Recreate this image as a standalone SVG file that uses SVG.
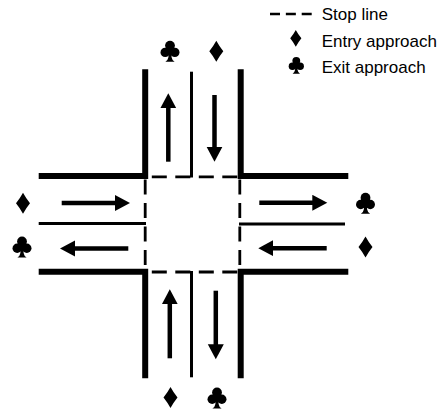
<svg xmlns="http://www.w3.org/2000/svg" width="439" height="411" viewBox="0 0 439 411">
<style>
.thick{fill:none;stroke:#000;stroke-width:6;stroke-linejoin:miter;stroke-linecap:butt}
.thin{fill:none;stroke:#000;stroke-width:3;stroke-linecap:butt}
.stop{fill:none;stroke:#000;stroke-width:2.8;stroke-dasharray:15 8.5}
.arrow{fill:none;stroke:#000;stroke-width:4.5;marker-end:url(#head)}
.lbl{font-family:"Liberation Sans",Arial,sans-serif;font-size:17px;fill:#000}
</style>
<defs>
<marker id="head" markerUnits="userSpaceOnUse" markerWidth="16" markerHeight="17" refX="5" refY="8" orient="auto">
<path d="M0,0 L15,8 L0,16 Z" fill="#000"/>
</marker>
<symbol id="diamond" overflow="visible">
<path d="M0,-10.5 Q3,-5 7,0 Q3,5 0,10.5 Q-3,5 -7,0 Q-3,-5 0,-10.5 Z" fill="#000"/>
</symbol>
<symbol id="club" overflow="visible">
<g fill="#000">
<circle cx="0" cy="-5.6" r="4.9"/>
<circle cx="-4.8" cy="1.2" r="4.7"/>
<circle cx="4.8" cy="1.2" r="4.7"/>
<circle cx="0" cy="0" r="2.6"/>
<path d="M-1.3,0 L1.3,0 L1.6,6 Q2.2,9.4 4.6,10.5 L-4.6,10.5 Q-2.2,9.4 -1.6,6 Z"/>
</g>
</symbol>
</defs>

<g id="roads">
<polyline class="thick" points="145.2,69.3 145.2,176 38.7,176"/>
<polyline class="thick" points="240.7,69.3 240.7,176 348.3,176"/>
<polyline class="thick" points="38.7,271.8 145.2,271.8 145.2,378.3"/>
<polyline class="thick" points="348.3,271.8 240.7,271.8 240.7,378.3"/>
<line class="thin" x1="191.5" y1="71.7" x2="191.5" y2="177.5"/>
<line class="thin" x1="191.5" y1="271" x2="191.5" y2="377.3"/>
<line class="thin" x1="38.7" y1="223.5" x2="146" y2="223.5"/>
<line class="thin" x1="239" y1="224" x2="345" y2="224"/>
</g>

<g id="stop-lines">
<line class="stop" x1="237.3" y1="176.8" x2="145" y2="176.8"/>
<line class="stop" x1="237.3" y1="272" x2="145" y2="272"/>
<line class="stop" x1="145.2" y1="179.5" x2="145.2" y2="270"/>
<line class="stop" x1="239.8" y1="179.5" x2="239.8" y2="270"/>
</g>

<g id="connectors">
<line class="arrow" x1="168.3" y1="161.7" x2="168.3" y2="103.3"/>
<line class="arrow" x1="214.5" y1="95" x2="214.5" y2="151.7"/>
<line class="arrow" x1="169.8" y1="358.3" x2="169.8" y2="299.3"/>
<line class="arrow" x1="215.8" y1="290.7" x2="215.8" y2="349.3"/>
<line class="arrow" x1="61.7" y1="203" x2="120" y2="203"/>
<line class="arrow" x1="128.3" y1="248.5" x2="70" y2="248.5"/>
<line class="arrow" x1="259.3" y1="202.8" x2="317.3" y2="202.8"/>
<line class="arrow" x1="326.7" y1="248.2" x2="268.3" y2="248.2"/>
</g>

<g id="approach-symbols">
<use href="#club" x="170" y="51.2"/>
<use href="#diamond" x="216.3" y="51.2"/>
<use href="#diamond" x="23" y="203.3"/>
<use href="#club" x="22" y="247"/>
<use href="#club" x="365.5" y="203.3"/>
<use href="#diamond" x="365.5" y="247"/>
<use href="#diamond" x="170.5" y="397.5"/>
<use href="#club" x="217" y="398"/>
</g>

<g id="legend">
<line x1="270" y1="14" x2="311.7" y2="14" stroke="#000" stroke-width="2.7" stroke-dasharray="10 5.85"/>
<text class="lbl" x="321.7" y="20">Stop line</text>
<use href="#diamond" transform="translate(295.8,38.3) scale(0.8)"/>
<text class="lbl" x="321.7" y="46.6">Entry approach</text>
<use href="#club" transform="translate(296.3,65.3) scale(0.8)"/>
<text class="lbl" x="321.7" y="73.2">Exit approach</text>
</g>
</svg>
